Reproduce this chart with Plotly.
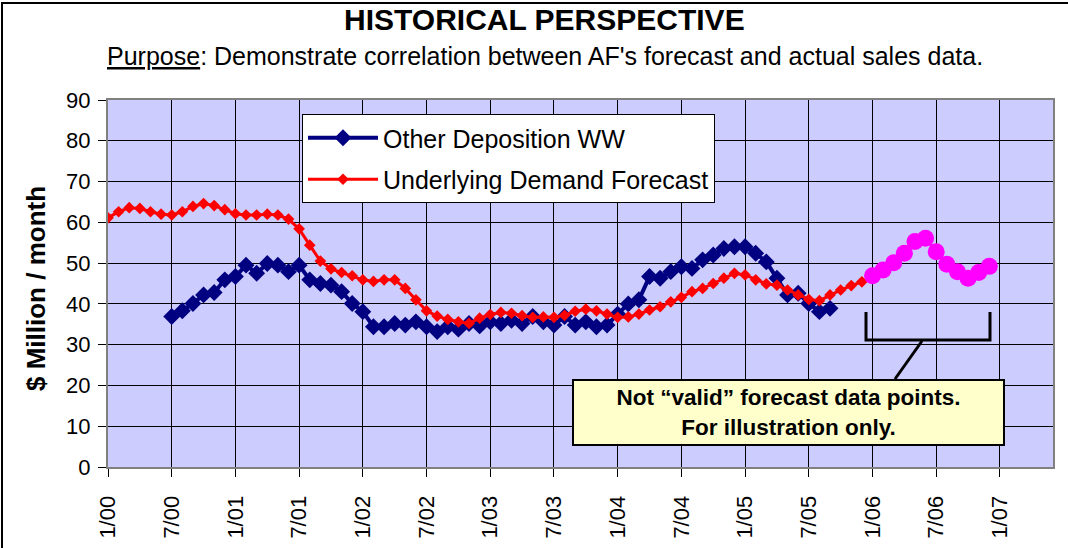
import plotly.graph_objects as go

# ---------------- data ----------------
tick_labels = ["1/00", "7/00", "1/01", "7/01", "1/02", "7/02", "1/03", "7/03",
               "1/04", "7/04", "1/05", "7/05", "1/06", "7/06", "1/07"]

# Underlying Demand Forecast, monthly from 1/00
demand_start = 0
demand_values = [61.1, 62.6, 63.6, 63.4, 62.6, 62.0, 61.8, 62.6, 63.9, 64.6,
                 64.1, 63.1, 62.1, 61.8, 61.8, 62.0, 61.8, 60.8, 58.4, 54.4,
                 50.5, 48.6, 47.7, 46.9, 45.9, 45.5, 45.9, 45.9, 43.8, 41.0,
                 38.3, 37.0, 36.2, 35.6, 35.2, 36.5, 37.4, 37.9, 37.7, 37.1,
                 36.7, 36.8, 36.7, 37.2, 38.2, 38.7, 38.3, 37.5, 36.7, 36.8,
                 37.5, 38.5, 39.3, 40.5, 41.6, 43.0, 43.8, 45.0, 46.3, 47.5,
                 47.1, 45.9, 44.9, 44.6, 43.4, 42.2, 41.1, 40.8, 42.2, 43.4,
                 44.5, 45.4]

# Illustrative (not valid) forecast points, monthly from 1/06
illus_start = 72
illus_values = [46.9, 48.3, 50.1, 52.4, 55.3, 56.1, 52.8, 49.7, 47.9, 46.3,
                47.7, 49.2]

# Other Deposition WW, monthly from 7/00
other_start = 6
other_values = [36.9, 38.3, 40.1, 42.2, 42.8, 45.9, 46.7, 49.5, 47.5, 49.9,
                49.5, 47.9, 49.5, 45.9, 45.0, 44.6, 43.0, 40.1, 38.1, 34.4,
                34.4, 35.2, 34.8, 35.6, 34.4, 33.2, 34.4, 33.8, 35.2, 34.6,
                35.6, 35.2, 36.0, 35.2, 36.9, 35.6, 34.8, 36.9, 34.8, 35.6,
                34.4, 34.8, 37.5, 40.0, 41.0, 46.7, 46.3, 47.9, 49.1, 48.7,
                50.8, 52.0, 53.6, 54.0, 54.0, 52.4, 50.3, 46.3, 42.2, 42.6,
                40.1, 38.1, 38.9]

months_per_tick = 6

# ---------------- figure ----------------
FONT = "Liberation Sans, Arial, sans-serif"
W, H = 1068, 548
L, R, T, B = 108, 15, 100, 81
PW, PH = W - L - R, H - T - B
XMAX, YMAX = 89, 90


def px_x(px):
    return (px - L) / PW


def px_y(py):
    return (H - B - py) / PH


def dx(px):
    return (px - L) / PW * XMAX


def dy(py):
    return (H - B - py) / PH * YMAX


def mx(vals, start):
    return list(range(start, start + len(vals)))


fig = go.Figure()

fig.add_trace(go.Scatter(
    x=mx(other_values, other_start), y=other_values, mode="lines+markers",
    name="Other Deposition WW", legendgroup="a",
    line=dict(color="#000080", width=4),
    marker=dict(symbol="diamond", size=13, color="#000080")))

fig.add_trace(go.Scatter(
    x=mx(demand_values, demand_start), y=demand_values, mode="lines+markers",
    name="Underlying Demand Forecast", legendgroup="b",
    line=dict(color="#FF0000", width=3),
    marker=dict(symbol="diamond", size=9, color="#FF0000")))

fig.add_trace(go.Scatter(
    x=mx(illus_values, illus_start), y=illus_values, mode="lines+markers",
    showlegend=False,
    line=dict(color="#FF00FF", width=3),
    marker=dict(symbol="circle", size=17, color="#FF00FF")))

tickvals = [i * months_per_tick for i in range(len(tick_labels))]

fig.update_layout(
    width=W, height=H,
    margin=dict(l=L, r=R, t=T, b=B),
    paper_bgcolor="white", plot_bgcolor="#CCCCFF",
    font=dict(family=FONT, color="black"),
    showlegend=True,
    legend=dict(x=px_x(302), y=px_y(114), xanchor="left", yanchor="top",
                bgcolor="white", bordercolor="black", borderwidth=1,
                font=dict(size=25, family=FONT), tracegroupgap=6,
                itemwidth=70),
    xaxis=dict(range=[0, XMAX], tickvals=tickvals, ticktext=tick_labels,
               tickangle=-90, tickfont=dict(size=22),
               showgrid=True, gridcolor="black", gridwidth=1,
               showline=True, mirror=True, linecolor="#808080", linewidth=2,
               ticks="outside", ticklen=8, tickcolor="black",
               ticklabelstandoff=10,
               zeroline=False, automargin=False),
    yaxis=dict(range=[0, YMAX], dtick=10, tickfont=dict(size=22),
               showgrid=True, gridcolor="black", gridwidth=1,
               showline=True, mirror=True, linecolor="#808080", linewidth=2,
               ticks="outside", ticklen=8, tickcolor="black",
               ticklabelstandoff=3,
               zeroline=False, automargin=False),
)

# titles
fig.add_annotation(text="<b>HISTORICAL PERSPECTIVE</b>", xref="paper", yref="paper",
                   x=px_x(544), y=px_y(20), xanchor="center", yanchor="middle",
                   showarrow=False, font=dict(size=30, family=FONT))
fig.add_annotation(text="<u>Purpose</u>: Demonstrate correlation between AF's forecast and actual sales data.",
                   xref="paper", yref="paper",
                   x=px_x(545), y=px_y(56), xanchor="center", yanchor="middle",
                   showarrow=False, font=dict(size=25, family=FONT))
fig.add_annotation(text="<b>$ Million / month</b>", xref="paper", yref="paper",
                   x=px_x(36), y=px_y(289), xanchor="center", yanchor="middle",
                   textangle=-90, showarrow=False, font=dict(size=26, family=FONT))

# note box
fig.add_annotation(text="<b>Not \u201cvalid\u201d forecast data points.<br>For illustration only.</b>",
                   xref="paper", yref="paper",
                   x=px_x(788.5), y=px_y(412.5), xanchor="center", yanchor="middle",
                   showarrow=False, font=dict(size=22.5, family=FONT),
                   bgcolor="#FFFFCC", bordercolor="black", borderwidth=2,
                   borderpad=2, width=425, height=59, align="center")

# bracket and connector
fig.add_shape(type="path", xref="x", yref="y",
              path=f"M {dx(866)} {dy(312)} L {dx(866)} {dy(340)} L {dx(990)} {dy(340)} L {dx(990)} {dy(312)}",
              line=dict(color="black", width=3))
fig.add_shape(type="line", xref="x", yref="y",
              x0=dx(922), y0=dy(341), x1=dx(895), y1=dy(379),
              line=dict(color="black", width=3))

# outer frame
fig.add_shape(type="rect", xref="paper", yref="paper",
              x0=px_x(2), y0=px_y(3), x1=px_x(1075), y1=px_y(560),
              line=dict(color="black", width=2), layer="below")

fig.write_html("out.html",
               config={"displayModeBar": False},
               post_script="document.body.style.margin='0';document.body.style.overflow='hidden';")
